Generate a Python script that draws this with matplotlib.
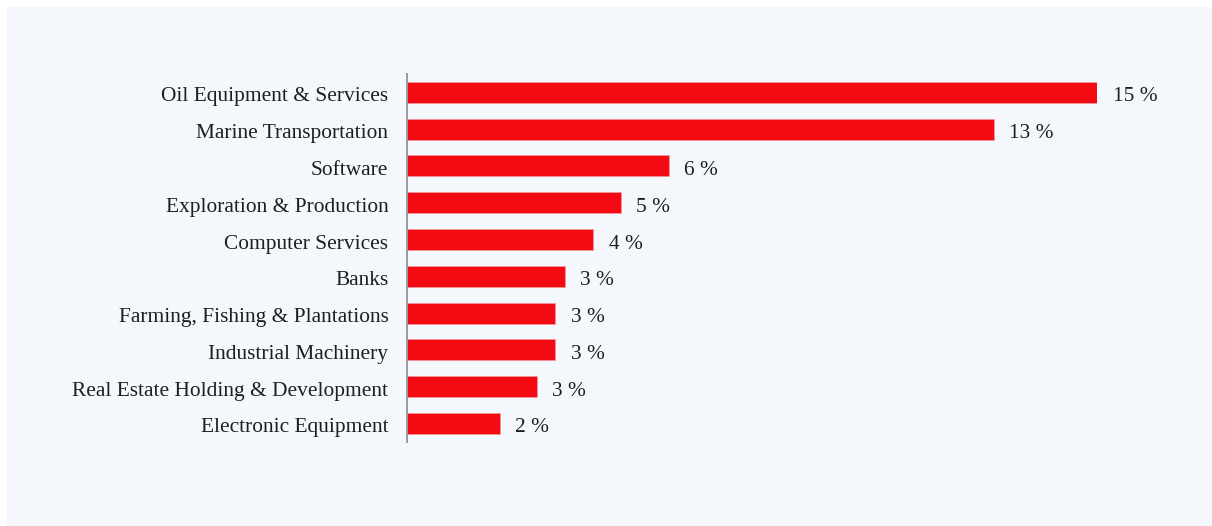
import matplotlib.pyplot as plt
import matplotlib.transforms as mtransforms
from matplotlib.patches import Rectangle

# sector weights, % of portfolio
sectors = ['Oil Equipment & Services', 'Marine Transportation', 'Software',
           'Exploration & Production', 'Computer Services', 'Banks',
           'Farming, Fishing & Plantations', 'Industrial Machinery',
           'Real Estate Holding & Development', 'Electronic Equipment']
weights = [15.0, 12.76, 5.69, 4.66, 4.06, 3.44, 3.23, 3.23, 2.83, 2.03]

BG = '#f4f7fc'
RED = '#f40a12'
FS = 15.4
DROP = -1.5  # points, pushes text slightly below the bar centre

plt.rcParams['font.family'] = ['Liberation Serif', 'DejaVu Serif']

fig = plt.figure(figsize=(12.12, 5.26), dpi=100)
fig.patch.set_facecolor('white')
fig.patches.append(Rectangle((7 / 1212, 0), 1, 1 - 7 / 526,
                             transform=fig.transFigure,
                             facecolor=BG, edgecolor='none', zorder=-10))

# axes box in pixels: x 406..1097 for 0..15, y 74..442
ax = fig.add_axes([406.5 / 1212, 1 - 441.8 / 526,
                   690.8 / 1212, (441.8 - 74) / 526])
ax.set_facecolor('none')

pos = list(range(len(sectors)))
ax.barh(pos, weights, height=0.57, color=RED, edgecolor='#f6a0a4',
        linewidth=0.4)
ax.set_xlim(0, 15.0)
ax.set_ylim(len(sectors) - 0.5, -0.5)

ax.set_yticks(pos)
ax.set_yticklabels(sectors, fontsize=FS, color='#1e1e1e')
ax.tick_params(axis='y', length=0, pad=13)
ax.set_xticks([])

shift = mtransforms.ScaledTranslation(0, DROP / 72, fig.dpi_scale_trans)
for lab in ax.get_yticklabels():
    lab.set_transform(lab.get_transform() + shift)

for s in ['top', 'right', 'bottom']:
    ax.spines[s].set_visible(False)
ax.spines['left'].set_color('#9a9a9a')
ax.spines['left'].set_linewidth(1.4)

for y, v in zip(pos, weights):
    ax.annotate(f'{v:.0f} %', (v, y), xytext=(11, DROP),
                textcoords='offset points', va='center_baseline', ha='left',
                fontsize=FS, color='#1e1e1e', annotation_clip=False)

plt.savefig('out.png', dpi=100)
